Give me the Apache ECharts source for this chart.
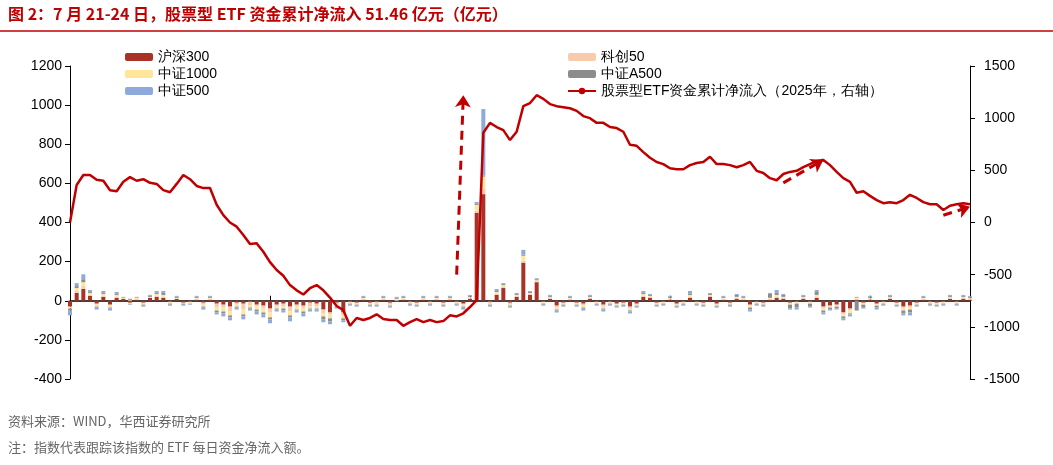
<!DOCTYPE html>
<html><head><meta charset="utf-8">
<script src="https://cdn.jsdelivr.net/npm/echarts@6/dist/echarts.min.js"></script>
<style>body{margin:0;background:#fff}#c{width:1053px;height:465px}</style>
</head><body><div id="c"></div>
<script>
const dates=['2024-12-31',
'2025-01-02','2025-01-03','2025-01-06','2025-01-07','2025-01-08','2025-01-09','2025-01-10','2025-01-13','2025-01-14','2025-01-15','2025-01-16','2025-01-17','2025-01-20','2025-01-21','2025-01-22','2025-01-23','2025-01-24','2025-01-27',
'2025-02-05','2025-02-06','2025-02-07','2025-02-10','2025-02-11','2025-02-12','2025-02-13','2025-02-14','2025-02-17','2025-02-18','2025-02-19','2025-02-20','2025-02-21','2025-02-24','2025-02-25','2025-02-26','2025-02-27','2025-02-28',
'2025-03-03','2025-03-04','2025-03-05','2025-03-06','2025-03-07','2025-03-10','2025-03-11','2025-03-12','2025-03-13','2025-03-14','2025-03-17','2025-03-18','2025-03-19','2025-03-20','2025-03-21','2025-03-24','2025-03-25','2025-03-26','2025-03-27','2025-03-28','2025-03-31',
'2025-04-01','2025-04-02','2025-04-03','2025-04-07','2025-04-08','2025-04-09','2025-04-10','2025-04-11','2025-04-14','2025-04-15','2025-04-16','2025-04-17','2025-04-18','2025-04-21','2025-04-22','2025-04-23','2025-04-24','2025-04-25','2025-04-28','2025-04-29','2025-04-30',
'2025-05-06','2025-05-07','2025-05-08','2025-05-09','2025-05-12','2025-05-13','2025-05-14','2025-05-15','2025-05-16','2025-05-19','2025-05-20','2025-05-21','2025-05-22','2025-05-23','2025-05-26','2025-05-27','2025-05-28','2025-05-29','2025-05-30',
'2025-06-03','2025-06-04','2025-06-05','2025-06-06','2025-06-09','2025-06-10','2025-06-11','2025-06-12','2025-06-13','2025-06-16','2025-06-17','2025-06-18','2025-06-19','2025-06-20','2025-06-23','2025-06-24','2025-06-25','2025-06-26','2025-06-27','2025-06-30',
'2025-07-01','2025-07-02','2025-07-03','2025-07-04','2025-07-07','2025-07-08','2025-07-09','2025-07-10','2025-07-11','2025-07-14','2025-07-15','2025-07-16','2025-07-17','2025-07-18','2025-07-21','2025-07-22','2025-07-23','2025-07-24'];
const hs300=[-30,40,60,25,-15,20,-20,15,10,-10, 5,-10,15,20,15,-5,10,-10,-5,5, -10,5,-15,-20,-30,-10,-15,-5,-20,-25, -40,-20,-15,-30,-20,-25,-10,-15,-45,-60, -10,-60,-5,-10,5,-10,-5,5,-10,-5, 5,-5,-10,5,-5,5,-10,5,-5,-15, 10,450,545,-5,30,65,-10,20,195,30, 95,-5,10,-25,-10,5,-10,-15,10,-5, -20,-5,-15,-10,-30,-15,20,15,-10,-5, 5,-15,-5,15,-5,-10,20,-15,5,-10, 10,5,-20,-5,-10,5,15,10,-10,-5, 10,-5,15,-30,-25,-20,-60,-40,5,-10, 5,-15,-5,10,-10,-30,-25,-10,5,-5, -10,-5,10,-5,10,5];
const kc50=[0,10,15,5,-5,5,-5,5,0,5, 5,-5,0,5,5,-5,0,0,-5,5, -10,5,-20,-15,-25,-10,-30,-20,-10,-15, -20,-10,-15,-25,-10,-15,-20,-15,-20,-10, -10,-15,-5,-5,5,-5,-10,5,-10,5, 5,-5,-5,5,-5,5,-5,5,-5,-5, 5,10,30,-10,5,5,-10,5,10,5, 5,-5,5,-10,-5,5,-5,-10,5,-5, -10,-5,-5,-5,-10,-5,5,5,-5,-5, 5,-5,-5,5,-5,-5,5,-5,5,-5, 5,5,-5,-5,-5,5,5,5,-5,-5, 5,-5,5,-10,-5,-5,-10,-10,5,-5, 5,-5,-5,5,-5,-10,-10,-5,5,-5, -5,-5,5,-5,5,5];
const zz1000=[-10,15,20,10,-10,10,-10,10,5,-5, 5,-5,5,10,10,-5,5,-5,-5,5, -10,5,-15,-20,-20,-10,-25,-10,-15,-20, -25,-10,-10,-20,-15,-15,-10,-10,-15,-20, -10,-15,-5,-5,5,-5,-5,5,-5,5, 5,-5,-5,5,-5,5,-5,5,-5,-10, 5,30,60,-5,10,10,-5,5,25,5, 5,-5,5,-10,-5,5,-5,-10,5,-5, -10,-5,-5,-5,-10,-5,10,5,-5,-5, 5,-5,-5,10,-5,-5,5,-5,5,-5, 5,5,-10,-5,-5,5,10,5,-5,-5, 5,-5,10,-10,-5,-5,-10,-15,5,-5, 5,-5,-5,5,-5,-10,-10,-5,5,-5, -5,-5,5,-5,5,5];
const a500=[-10,10,15,5,-5,5,-5,5,0,5, 0,-5,5,5,10,-5,5,-5,0,5, -5,5,-10,-10,-10,-5,-10,-5,-10,-10, -10,-5,-10,-10,-5,-10,-5,-5,-15,-15, -5,-10,-5,-5,5,-5,-5,5,-5,5, 5,-5,-5,5,-5,5,-5,5,-5,-5, 5,5,5,-5,5,5,-5,5,5,5, 5,-5,5,-5,-5,5,-5,-5,5,-5, -5,-5,-5,-5,-5,-5,5,5,-5,-5, 5,-5,-5,5,-5,-5,5,-5,5,-5, 10,5,-10,-5,-5,20,10,10,-20,-20, 5,-15,15,-10,-10,-10,-10,-5,-50,-15, 5,-10,-5,5,-5,-15,-15,-5,5,-5, -5,-5,5,-5,5,5];
const zz500=[-25,15,25,10,-10,10,-10,10,5,-5, 5,-5,5,10,10,-5,5,-5,-5,5, -10,5,-10,-15,-15,-10,-15,-10,-15,-15, -20,-10,-10,-20,-10,-15,-10,-10,-15,-15, -5,-10,-5,-5,5,-5,-5,5,-5,5, 5,-5,-5,5,-5,5,-5,5,-5,-10, 5,10,340,-5,10,5,-5,5,25,5, 5,-5,5,-10,-5,5,-5,-10,5,-5, -10,-5,-5,-5,-10,-5,10,5,-5,-5, 5,-5,-5,15,-5,-5,5,-5,5,-5, 5,5,-10,-5,-5,5,15,5,-5,-10, 5,-5,10,-10,-5,-5,-10,-10,5,-5, 5,-10,-5,5,-5,-10,-15,-5,5,-5, -5,-5,5,-5,5,5];
const cumFlow=[0,360,455,455,410,400,310,300,390,435, 400,415,380,370,310,290,370,455,415,350, 330,330,170,70,0,-40,-120,-205,-200,-280, -380,-455,-510,-600,-650,-690,-630,-600,-650,-720, -800,-840,-990,-915,-935,-915,-880,-925,-935,-935, -990,-955,-925,-955,-935,-955,-945,-890,-900,-870, -810,-745,860,955,915,885,790,870,1115,1145, 1220,1185,1135,1115,1105,1095,1070,1020,1000,955, 955,915,905,870,745,735,675,620,580,560, 520,510,510,550,570,580,630,560,560,550, 530,550,580,495,475,425,405,465,485,495, 530,560,590,600,550,485,425,390,285,300, 255,215,185,195,185,215,265,235,195,175, 175,120,160,175,185,175];
const leftTicks=[-400,1200,200], rightTicks=[-1500,1500,500];

const red='#C00000';
function bar(name,data,color){return {name,type:'bar',stack:'s',data,itemStyle:{color},barWidth:'60%'};}
const arrows=[[[58,-500],[59,1220]],[[107,380],[113,600]],[[131,70],[135,150]]];
const chart=echarts.init(document.getElementById('c'));
chart.setOption({
  animation:false,
  textStyle:{fontFamily:'Liberation Sans, Arial, sans-serif'},
  graphic:[
    {type:'text',left:8,top:6,style:{text:'图 2：7 月 21-24 日，股票型 ETF 资金累计净流入 51.46 亿元（亿元）',fill:red,font:'bold 16px "Noto Sans CJK SC"'}},
    {type:'line',shape:{x1:0,y1:31,x2:1053,y2:31},style:{stroke:red,lineWidth:1.5}},
    {type:'text',left:8,top:415,style:{text:'资料来源：WIND，华西证券研究所',fill:'#666',font:'13px "Noto Sans CJK SC"'}},
    {type:'text',left:8,top:441,style:{text:'注：指数代表跟踪该指数的 ETF 每日资金净流入额。',fill:'#666',font:'13px "Noto Sans CJK SC"'}}
  ],
  legend:[
    {left:120,top:45,orient:'vertical',itemGap:3,itemWidth:28,itemHeight:8,textStyle:{fontSize:14,color:'#000'},data:['沪深300','中证1000','中证500']},
    {left:562,top:45,orient:'vertical',itemGap:3,itemWidth:28,itemHeight:8,textStyle:{fontSize:14,color:'#000'},data:['科创50','中证A500','股票型ETF资金累计净流入（2025年，右轴）']}
  ],
  grid:{left:70,right:83,top:66,bottom:86,outerBoundsMode:'none',containLabel:false},
  xAxis:{type:'category',data:dates,boundaryGap:false,
    axisLine:{onZero:true,lineStyle:{color:'#000',width:1.5}},
    axisTick:{inside:true,interval:29,length:5,lineStyle:{color:'#000'}},
    axisLabel:{interval:29,margin:88,fontSize:14,color:'#000'}},
  yAxis:[
    {type:'value',min:leftTicks[0],max:leftTicks[1],interval:leftTicks[2],splitLine:{show:false},
     axisLine:{show:true,onZero:false,lineStyle:{color:'#000'}},axisTick:{show:true,lineStyle:{color:'#000'}},axisLabel:{fontSize:14,color:'#000',formatter:v=>String(v)}},
    {type:'value',min:rightTicks[0],max:rightTicks[1],interval:rightTicks[2],splitLine:{show:false},
     axisLine:{show:true,onZero:false,lineStyle:{color:'#000'}},axisTick:{show:true,lineStyle:{color:'#000'}},axisLabel:{fontSize:14,color:'#000',margin:14,formatter:v=>String(v)}}
  ],
  series:[
    bar('沪深300',hs300,'#A93226'),
    bar('科创50',kc50,'#F8CBAD'),
    bar('中证1000',zz1000,'#FFE699'),
    bar('中证A500',a500,'#8C8C8C'),
    bar('中证500',zz500,'#8EA9DB'),
    {name:'股票型ETF资金累计净流入（2025年，右轴）',type:'line',yAxisIndex:1,data:cumFlow,symbol:'none',
     lineStyle:{color:red,width:2.5},itemStyle:{color:red},z:5,
     markLine:{silent:true,symbol:['none','arrow'],symbolSize:12,label:{show:false},
       lineStyle:{color:red,type:[9,6],width:3},
       data:arrows.map(a=>[{coord:[dates[a[0][0]],a[0][1]]},{coord:[dates[a[1][0]],a[1][1]]}])}}
  ]
});
</script></body></html>
